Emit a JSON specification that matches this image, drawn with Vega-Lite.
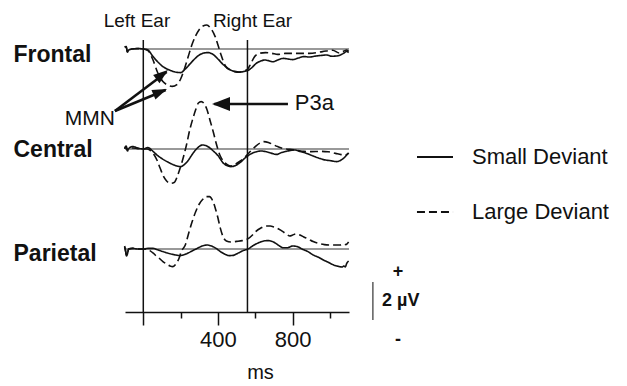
{
  "$schema": "https://vega.github.io/schema/vega-lite/v6.json",
  "padding": {"left": 13, "top": 0, "right": 0, "bottom": 0},
  "background": "white",
  "config": {"view": {"stroke": null}, "font": "Liberation Sans"},
  "spacing": 0,
  "bounds": "flush",
  "resolve": {"scale": {"y": "independent", "strokeDash": "independent"}, "legend": {"strokeDash": "independent"}},
  "datasets": {
    "waves": [
      {"ch":"Frontal","dev":"Small Deviant","ms":-100,"uv":0.10},{"ch":"Frontal","dev":"Small Deviant","ms":-92,"uv":0.12},{"ch":"Frontal","dev":"Small Deviant","ms":-85,"uv":-0.15},{"ch":"Frontal","dev":"Small Deviant","ms":-78,"uv":-0.05},{"ch":"Frontal","dev":"Small Deviant","ms":-60,"uv":0.0},{"ch":"Frontal","dev":"Small Deviant","ms":-30,"uv":0.02},{"ch":"Frontal","dev":"Small Deviant","ms":0,"uv":0.0},{"ch":"Frontal","dev":"Small Deviant","ms":25,"uv":-0.05},{"ch":"Frontal","dev":"Small Deviant","ms":50,"uv":-0.35},{"ch":"Frontal","dev":"Small Deviant","ms":75,"uv":-0.62},{"ch":"Frontal","dev":"Small Deviant","ms":105,"uv":-0.88},{"ch":"Frontal","dev":"Small Deviant","ms":140,"uv":-1.05},{"ch":"Frontal","dev":"Small Deviant","ms":170,"uv":-1.15},{"ch":"Frontal","dev":"Small Deviant","ms":200,"uv":-1.18},{"ch":"Frontal","dev":"Small Deviant","ms":225,"uv":-1.0},{"ch":"Frontal","dev":"Small Deviant","ms":250,"uv":-0.75},{"ch":"Frontal","dev":"Small Deviant","ms":275,"uv":-0.5},{"ch":"Frontal","dev":"Small Deviant","ms":300,"uv":-0.3},{"ch":"Frontal","dev":"Small Deviant","ms":325,"uv":-0.2},{"ch":"Frontal","dev":"Small Deviant","ms":345,"uv":-0.18},{"ch":"Frontal","dev":"Small Deviant","ms":370,"uv":-0.25},{"ch":"Frontal","dev":"Small Deviant","ms":400,"uv":-0.5},{"ch":"Frontal","dev":"Small Deviant","ms":425,"uv":-0.75},{"ch":"Frontal","dev":"Small Deviant","ms":450,"uv":-0.95},{"ch":"Frontal","dev":"Small Deviant","ms":480,"uv":-1.1},{"ch":"Frontal","dev":"Small Deviant","ms":510,"uv":-1.16},{"ch":"Frontal","dev":"Small Deviant","ms":540,"uv":-1.12},{"ch":"Frontal","dev":"Small Deviant","ms":565,"uv":-1.05},{"ch":"Frontal","dev":"Small Deviant","ms":585,"uv":-0.9},{"ch":"Frontal","dev":"Small Deviant","ms":605,"uv":-0.72},{"ch":"Frontal","dev":"Small Deviant","ms":630,"uv":-0.6},{"ch":"Frontal","dev":"Small Deviant","ms":650,"uv":-0.55},{"ch":"Frontal","dev":"Small Deviant","ms":670,"uv":-0.58},{"ch":"Frontal","dev":"Small Deviant","ms":695,"uv":-0.64},{"ch":"Frontal","dev":"Small Deviant","ms":720,"uv":-0.55},{"ch":"Frontal","dev":"Small Deviant","ms":750,"uv":-0.47},{"ch":"Frontal","dev":"Small Deviant","ms":775,"uv":-0.5},{"ch":"Frontal","dev":"Small Deviant","ms":800,"uv":-0.53},{"ch":"Frontal","dev":"Small Deviant","ms":830,"uv":-0.45},{"ch":"Frontal","dev":"Small Deviant","ms":860,"uv":-0.38},{"ch":"Frontal","dev":"Small Deviant","ms":890,"uv":-0.4},{"ch":"Frontal","dev":"Small Deviant","ms":925,"uv":-0.35},{"ch":"Frontal","dev":"Small Deviant","ms":955,"uv":-0.32},{"ch":"Frontal","dev":"Small Deviant","ms":980,"uv":-0.3},{"ch":"Frontal","dev":"Small Deviant","ms":1010,"uv":-0.36},{"ch":"Frontal","dev":"Small Deviant","ms":1035,"uv":-0.35},{"ch":"Frontal","dev":"Small Deviant","ms":1060,"uv":-0.28},{"ch":"Frontal","dev":"Small Deviant","ms":1075,"uv":-0.2},{"ch":"Frontal","dev":"Small Deviant","ms":1090,"uv":-0.12},{"ch":"Frontal","dev":"Small Deviant","ms":1100,"uv":-0.18},
      {"ch":"Frontal","dev":"Large Deviant","ms":-100,"uv":0.10},{"ch":"Frontal","dev":"Large Deviant","ms":-92,"uv":0.12},{"ch":"Frontal","dev":"Large Deviant","ms":-85,"uv":-0.15},{"ch":"Frontal","dev":"Large Deviant","ms":-78,"uv":-0.05},{"ch":"Frontal","dev":"Large Deviant","ms":-60,"uv":0.0},{"ch":"Frontal","dev":"Large Deviant","ms":-30,"uv":0.02},{"ch":"Frontal","dev":"Large Deviant","ms":0,"uv":0.0},{"ch":"Frontal","dev":"Large Deviant","ms":25,"uv":-0.08},{"ch":"Frontal","dev":"Large Deviant","ms":50,"uv":-0.5},{"ch":"Frontal","dev":"Large Deviant","ms":78,"uv":-1.2},{"ch":"Frontal","dev":"Large Deviant","ms":105,"uv":-1.63},{"ch":"Frontal","dev":"Large Deviant","ms":130,"uv":-1.8},{"ch":"Frontal","dev":"Large Deviant","ms":155,"uv":-1.87},{"ch":"Frontal","dev":"Large Deviant","ms":180,"uv":-1.78},{"ch":"Frontal","dev":"Large Deviant","ms":200,"uv":-1.5},{"ch":"Frontal","dev":"Large Deviant","ms":220,"uv":-1.0},{"ch":"Frontal","dev":"Large Deviant","ms":240,"uv":-0.4},{"ch":"Frontal","dev":"Large Deviant","ms":260,"uv":0.2},{"ch":"Frontal","dev":"Large Deviant","ms":280,"uv":0.65},{"ch":"Frontal","dev":"Large Deviant","ms":300,"uv":0.98},{"ch":"Frontal","dev":"Large Deviant","ms":320,"uv":1.15},{"ch":"Frontal","dev":"Large Deviant","ms":340,"uv":1.2},{"ch":"Frontal","dev":"Large Deviant","ms":360,"uv":1.05},{"ch":"Frontal","dev":"Large Deviant","ms":385,"uv":0.62},{"ch":"Frontal","dev":"Large Deviant","ms":400,"uv":0.2},{"ch":"Frontal","dev":"Large Deviant","ms":415,"uv":-0.25},{"ch":"Frontal","dev":"Large Deviant","ms":440,"uv":-0.85},{"ch":"Frontal","dev":"Large Deviant","ms":465,"uv":-1.05},{"ch":"Frontal","dev":"Large Deviant","ms":490,"uv":-1.12},{"ch":"Frontal","dev":"Large Deviant","ms":515,"uv":-1.15},{"ch":"Frontal","dev":"Large Deviant","ms":540,"uv":-1.1},{"ch":"Frontal","dev":"Large Deviant","ms":560,"uv":-1.0},{"ch":"Frontal","dev":"Large Deviant","ms":575,"uv":-0.75},{"ch":"Frontal","dev":"Large Deviant","ms":595,"uv":-0.4},{"ch":"Frontal","dev":"Large Deviant","ms":620,"uv":-0.22},{"ch":"Frontal","dev":"Large Deviant","ms":655,"uv":-0.18},{"ch":"Frontal","dev":"Large Deviant","ms":690,"uv":-0.22},{"ch":"Frontal","dev":"Large Deviant","ms":720,"uv":-0.27},{"ch":"Frontal","dev":"Large Deviant","ms":760,"uv":-0.22},{"ch":"Frontal","dev":"Large Deviant","ms":820,"uv":-0.22},{"ch":"Frontal","dev":"Large Deviant","ms":890,"uv":-0.22},{"ch":"Frontal","dev":"Large Deviant","ms":960,"uv":-0.13},{"ch":"Frontal","dev":"Large Deviant","ms":1015,"uv":-0.06},{"ch":"Frontal","dev":"Large Deviant","ms":1050,"uv":-0.2},{"ch":"Frontal","dev":"Large Deviant","ms":1075,"uv":-0.1},{"ch":"Frontal","dev":"Large Deviant","ms":1090,"uv":-0.05},{"ch":"Frontal","dev":"Large Deviant","ms":1100,"uv":-0.12},
      {"ch":"Central","dev":"Small Deviant","ms":-100,"uv":0.03},{"ch":"Central","dev":"Small Deviant","ms":-92,"uv":0.15},{"ch":"Central","dev":"Small Deviant","ms":-85,"uv":-0.05},{"ch":"Central","dev":"Small Deviant","ms":-75,"uv":0.05},{"ch":"Central","dev":"Small Deviant","ms":-57,"uv":0.12},{"ch":"Central","dev":"Small Deviant","ms":-30,"uv":0.05},{"ch":"Central","dev":"Small Deviant","ms":0,"uv":0.0},{"ch":"Central","dev":"Small Deviant","ms":24,"uv":0.07},{"ch":"Central","dev":"Small Deviant","ms":50,"uv":-0.1},{"ch":"Central","dev":"Small Deviant","ms":73,"uv":-0.3},{"ch":"Central","dev":"Small Deviant","ms":100,"uv":-0.48},{"ch":"Central","dev":"Small Deviant","ms":127,"uv":-0.63},{"ch":"Central","dev":"Small Deviant","ms":155,"uv":-0.76},{"ch":"Central","dev":"Small Deviant","ms":181,"uv":-0.85},{"ch":"Central","dev":"Small Deviant","ms":200,"uv":-0.88},{"ch":"Central","dev":"Small Deviant","ms":220,"uv":-0.78},{"ch":"Central","dev":"Small Deviant","ms":240,"uv":-0.58},{"ch":"Central","dev":"Small Deviant","ms":260,"uv":-0.3},{"ch":"Central","dev":"Small Deviant","ms":280,"uv":-0.05},{"ch":"Central","dev":"Small Deviant","ms":300,"uv":0.13},{"ch":"Central","dev":"Small Deviant","ms":316,"uv":0.2},{"ch":"Central","dev":"Small Deviant","ms":335,"uv":0.17},{"ch":"Central","dev":"Small Deviant","ms":350,"uv":0.1},{"ch":"Central","dev":"Small Deviant","ms":375,"uv":-0.1},{"ch":"Central","dev":"Small Deviant","ms":400,"uv":-0.33},{"ch":"Central","dev":"Small Deviant","ms":430,"uv":-0.72},{"ch":"Central","dev":"Small Deviant","ms":455,"uv":-0.85},{"ch":"Central","dev":"Small Deviant","ms":470,"uv":-0.88},{"ch":"Central","dev":"Small Deviant","ms":495,"uv":-0.82},{"ch":"Central","dev":"Small Deviant","ms":520,"uv":-0.67},{"ch":"Central","dev":"Small Deviant","ms":545,"uv":-0.45},{"ch":"Central","dev":"Small Deviant","ms":570,"uv":-0.28},{"ch":"Central","dev":"Small Deviant","ms":600,"uv":-0.15},{"ch":"Central","dev":"Small Deviant","ms":630,"uv":-0.1},{"ch":"Central","dev":"Small Deviant","ms":660,"uv":-0.14},{"ch":"Central","dev":"Small Deviant","ms":690,"uv":-0.22},{"ch":"Central","dev":"Small Deviant","ms":715,"uv":-0.27},{"ch":"Central","dev":"Small Deviant","ms":740,"uv":-0.18},{"ch":"Central","dev":"Small Deviant","ms":765,"uv":-0.12},{"ch":"Central","dev":"Small Deviant","ms":790,"uv":-0.07},{"ch":"Central","dev":"Small Deviant","ms":810,"uv":-0.05},{"ch":"Central","dev":"Small Deviant","ms":840,"uv":-0.12},{"ch":"Central","dev":"Small Deviant","ms":875,"uv":-0.22},{"ch":"Central","dev":"Small Deviant","ms":910,"uv":-0.35},{"ch":"Central","dev":"Small Deviant","ms":945,"uv":-0.47},{"ch":"Central","dev":"Small Deviant","ms":975,"uv":-0.55},{"ch":"Central","dev":"Small Deviant","ms":1000,"uv":-0.58},{"ch":"Central","dev":"Small Deviant","ms":1035,"uv":-0.63},{"ch":"Central","dev":"Small Deviant","ms":1060,"uv":-0.55},{"ch":"Central","dev":"Small Deviant","ms":1075,"uv":-0.45},{"ch":"Central","dev":"Small Deviant","ms":1090,"uv":-0.3},{"ch":"Central","dev":"Small Deviant","ms":1100,"uv":-0.2},
      {"ch":"Central","dev":"Large Deviant","ms":-100,"uv":0.0},{"ch":"Central","dev":"Large Deviant","ms":-92,"uv":0.1},{"ch":"Central","dev":"Large Deviant","ms":-85,"uv":-0.1},{"ch":"Central","dev":"Large Deviant","ms":-75,"uv":0.0},{"ch":"Central","dev":"Large Deviant","ms":-57,"uv":0.05},{"ch":"Central","dev":"Large Deviant","ms":-30,"uv":0.02},{"ch":"Central","dev":"Large Deviant","ms":0,"uv":0.0},{"ch":"Central","dev":"Large Deviant","ms":20,"uv":0.0},{"ch":"Central","dev":"Large Deviant","ms":35,"uv":-0.05},{"ch":"Central","dev":"Large Deviant","ms":55,"uv":-0.25},{"ch":"Central","dev":"Large Deviant","ms":73,"uv":-0.55},{"ch":"Central","dev":"Large Deviant","ms":90,"uv":-0.95},{"ch":"Central","dev":"Large Deviant","ms":105,"uv":-1.3},{"ch":"Central","dev":"Large Deviant","ms":125,"uv":-1.6},{"ch":"Central","dev":"Large Deviant","ms":145,"uv":-1.72},{"ch":"Central","dev":"Large Deviant","ms":165,"uv":-1.68},{"ch":"Central","dev":"Large Deviant","ms":185,"uv":-1.3},{"ch":"Central","dev":"Large Deviant","ms":200,"uv":-0.88},{"ch":"Central","dev":"Large Deviant","ms":215,"uv":-0.4},{"ch":"Central","dev":"Large Deviant","ms":230,"uv":0.15},{"ch":"Central","dev":"Large Deviant","ms":250,"uv":1.0},{"ch":"Central","dev":"Large Deviant","ms":265,"uv":1.5},{"ch":"Central","dev":"Large Deviant","ms":280,"uv":1.95},{"ch":"Central","dev":"Large Deviant","ms":295,"uv":2.3},{"ch":"Central","dev":"Large Deviant","ms":310,"uv":2.37},{"ch":"Central","dev":"Large Deviant","ms":325,"uv":2.28},{"ch":"Central","dev":"Large Deviant","ms":340,"uv":2.0},{"ch":"Central","dev":"Large Deviant","ms":360,"uv":1.35},{"ch":"Central","dev":"Large Deviant","ms":375,"uv":0.85},{"ch":"Central","dev":"Large Deviant","ms":390,"uv":0.3},{"ch":"Central","dev":"Large Deviant","ms":410,"uv":-0.3},{"ch":"Central","dev":"Large Deviant","ms":430,"uv":-0.62},{"ch":"Central","dev":"Large Deviant","ms":450,"uv":-0.78},{"ch":"Central","dev":"Large Deviant","ms":470,"uv":-0.85},{"ch":"Central","dev":"Large Deviant","ms":495,"uv":-0.75},{"ch":"Central","dev":"Large Deviant","ms":520,"uv":-0.6},{"ch":"Central","dev":"Large Deviant","ms":545,"uv":-0.4},{"ch":"Central","dev":"Large Deviant","ms":570,"uv":-0.15},{"ch":"Central","dev":"Large Deviant","ms":600,"uv":0.12},{"ch":"Central","dev":"Large Deviant","ms":625,"uv":0.3},{"ch":"Central","dev":"Large Deviant","ms":645,"uv":0.37},{"ch":"Central","dev":"Large Deviant","ms":670,"uv":0.33},{"ch":"Central","dev":"Large Deviant","ms":695,"uv":0.22},{"ch":"Central","dev":"Large Deviant","ms":720,"uv":0.12},{"ch":"Central","dev":"Large Deviant","ms":750,"uv":0.02},{"ch":"Central","dev":"Large Deviant","ms":785,"uv":-0.02},{"ch":"Central","dev":"Large Deviant","ms":820,"uv":-0.06},{"ch":"Central","dev":"Large Deviant","ms":860,"uv":-0.12},{"ch":"Central","dev":"Large Deviant","ms":900,"uv":-0.13},{"ch":"Central","dev":"Large Deviant","ms":950,"uv":-0.12},{"ch":"Central","dev":"Large Deviant","ms":990,"uv":-0.14},{"ch":"Central","dev":"Large Deviant","ms":1030,"uv":-0.22},{"ch":"Central","dev":"Large Deviant","ms":1060,"uv":-0.28},{"ch":"Central","dev":"Large Deviant","ms":1080,"uv":-0.3},{"ch":"Central","dev":"Large Deviant","ms":1100,"uv":-0.2},
      {"ch":"Parietal","dev":"Small Deviant","ms":-100,"uv":0.15},{"ch":"Parietal","dev":"Small Deviant","ms":-95,"uv":-0.1},{"ch":"Parietal","dev":"Small Deviant","ms":-90,"uv":-0.35},{"ch":"Parietal","dev":"Small Deviant","ms":-85,"uv":-0.25},{"ch":"Parietal","dev":"Small Deviant","ms":-78,"uv":0.0},{"ch":"Parietal","dev":"Small Deviant","ms":-57,"uv":0.03},{"ch":"Parietal","dev":"Small Deviant","ms":-30,"uv":0.0},{"ch":"Parietal","dev":"Small Deviant","ms":0,"uv":0.0},{"ch":"Parietal","dev":"Small Deviant","ms":25,"uv":0.03},{"ch":"Parietal","dev":"Small Deviant","ms":51,"uv":0.03},{"ch":"Parietal","dev":"Small Deviant","ms":80,"uv":-0.05},{"ch":"Parietal","dev":"Small Deviant","ms":105,"uv":-0.13},{"ch":"Parietal","dev":"Small Deviant","ms":130,"uv":-0.2},{"ch":"Parietal","dev":"Small Deviant","ms":159,"uv":-0.27},{"ch":"Parietal","dev":"Small Deviant","ms":180,"uv":-0.31},{"ch":"Parietal","dev":"Small Deviant","ms":197,"uv":-0.33},{"ch":"Parietal","dev":"Small Deviant","ms":220,"uv":-0.28},{"ch":"Parietal","dev":"Small Deviant","ms":240,"uv":-0.2},{"ch":"Parietal","dev":"Small Deviant","ms":265,"uv":-0.08},{"ch":"Parietal","dev":"Small Deviant","ms":289,"uv":0.03},{"ch":"Parietal","dev":"Small Deviant","ms":315,"uv":0.15},{"ch":"Parietal","dev":"Small Deviant","ms":343,"uv":0.2},{"ch":"Parietal","dev":"Small Deviant","ms":365,"uv":0.15},{"ch":"Parietal","dev":"Small Deviant","ms":390,"uv":0.03},{"ch":"Parietal","dev":"Small Deviant","ms":413,"uv":-0.13},{"ch":"Parietal","dev":"Small Deviant","ms":440,"uv":-0.27},{"ch":"Parietal","dev":"Small Deviant","ms":460,"uv":-0.33},{"ch":"Parietal","dev":"Small Deviant","ms":480,"uv":-0.32},{"ch":"Parietal","dev":"Small Deviant","ms":505,"uv":-0.22},{"ch":"Parietal","dev":"Small Deviant","ms":535,"uv":-0.08},{"ch":"Parietal","dev":"Small Deviant","ms":565,"uv":0.02},{"ch":"Parietal","dev":"Small Deviant","ms":590,"uv":0.18},{"ch":"Parietal","dev":"Small Deviant","ms":620,"uv":0.32},{"ch":"Parietal","dev":"Small Deviant","ms":645,"uv":0.4},{"ch":"Parietal","dev":"Small Deviant","ms":668,"uv":0.42},{"ch":"Parietal","dev":"Small Deviant","ms":690,"uv":0.38},{"ch":"Parietal","dev":"Small Deviant","ms":710,"uv":0.28},{"ch":"Parietal","dev":"Small Deviant","ms":730,"uv":0.15},{"ch":"Parietal","dev":"Small Deviant","ms":750,"uv":0.06},{"ch":"Parietal","dev":"Small Deviant","ms":770,"uv":0.06},{"ch":"Parietal","dev":"Small Deviant","ms":800,"uv":0.15},{"ch":"Parietal","dev":"Small Deviant","ms":825,"uv":0.12},{"ch":"Parietal","dev":"Small Deviant","ms":850,"uv":0.0},{"ch":"Parietal","dev":"Small Deviant","ms":880,"uv":-0.12},{"ch":"Parietal","dev":"Small Deviant","ms":910,"uv":-0.3},{"ch":"Parietal","dev":"Small Deviant","ms":940,"uv":-0.42},{"ch":"Parietal","dev":"Small Deviant","ms":965,"uv":-0.55},{"ch":"Parietal","dev":"Small Deviant","ms":990,"uv":-0.66},{"ch":"Parietal","dev":"Small Deviant","ms":1020,"uv":-0.8},{"ch":"Parietal","dev":"Small Deviant","ms":1045,"uv":-0.87},{"ch":"Parietal","dev":"Small Deviant","ms":1065,"uv":-0.9},{"ch":"Parietal","dev":"Small Deviant","ms":1075,"uv":-0.85},{"ch":"Parietal","dev":"Small Deviant","ms":1082,"uv":-0.9},{"ch":"Parietal","dev":"Small Deviant","ms":1090,"uv":-0.72},{"ch":"Parietal","dev":"Small Deviant","ms":1100,"uv":-0.6},
      {"ch":"Parietal","dev":"Large Deviant","ms":-100,"uv":0.1},{"ch":"Parietal","dev":"Large Deviant","ms":-95,"uv":-0.1},{"ch":"Parietal","dev":"Large Deviant","ms":-90,"uv":-0.3},{"ch":"Parietal","dev":"Large Deviant","ms":-85,"uv":-0.2},{"ch":"Parietal","dev":"Large Deviant","ms":-78,"uv":0.0},{"ch":"Parietal","dev":"Large Deviant","ms":-57,"uv":0.03},{"ch":"Parietal","dev":"Large Deviant","ms":-30,"uv":0.0},{"ch":"Parietal","dev":"Large Deviant","ms":0,"uv":0.0},{"ch":"Parietal","dev":"Large Deviant","ms":20,"uv":-0.02},{"ch":"Parietal","dev":"Large Deviant","ms":35,"uv":-0.08},{"ch":"Parietal","dev":"Large Deviant","ms":55,"uv":-0.22},{"ch":"Parietal","dev":"Large Deviant","ms":73,"uv":-0.38},{"ch":"Parietal","dev":"Large Deviant","ms":90,"uv":-0.5},{"ch":"Parietal","dev":"Large Deviant","ms":105,"uv":-0.63},{"ch":"Parietal","dev":"Large Deviant","ms":125,"uv":-0.75},{"ch":"Parietal","dev":"Large Deviant","ms":143,"uv":-0.85},{"ch":"Parietal","dev":"Large Deviant","ms":159,"uv":-0.88},{"ch":"Parietal","dev":"Large Deviant","ms":175,"uv":-0.75},{"ch":"Parietal","dev":"Large Deviant","ms":190,"uv":-0.5},{"ch":"Parietal","dev":"Large Deviant","ms":205,"uv":-0.1},{"ch":"Parietal","dev":"Large Deviant","ms":225,"uv":0.2},{"ch":"Parietal","dev":"Large Deviant","ms":245,"uv":0.85},{"ch":"Parietal","dev":"Large Deviant","ms":262,"uv":1.37},{"ch":"Parietal","dev":"Large Deviant","ms":280,"uv":1.85},{"ch":"Parietal","dev":"Large Deviant","ms":300,"uv":2.25},{"ch":"Parietal","dev":"Large Deviant","ms":320,"uv":2.5},{"ch":"Parietal","dev":"Large Deviant","ms":335,"uv":2.62},{"ch":"Parietal","dev":"Large Deviant","ms":355,"uv":2.62},{"ch":"Parietal","dev":"Large Deviant","ms":370,"uv":2.45},{"ch":"Parietal","dev":"Large Deviant","ms":386,"uv":2.03},{"ch":"Parietal","dev":"Large Deviant","ms":400,"uv":1.55},{"ch":"Parietal","dev":"Large Deviant","ms":413,"uv":1.03},{"ch":"Parietal","dev":"Large Deviant","ms":428,"uv":0.6},{"ch":"Parietal","dev":"Large Deviant","ms":445,"uv":0.4},{"ch":"Parietal","dev":"Large Deviant","ms":470,"uv":0.35},{"ch":"Parietal","dev":"Large Deviant","ms":500,"uv":0.38},{"ch":"Parietal","dev":"Large Deviant","ms":530,"uv":0.42},{"ch":"Parietal","dev":"Large Deviant","ms":564,"uv":0.53},{"ch":"Parietal","dev":"Large Deviant","ms":585,"uv":0.7},{"ch":"Parietal","dev":"Large Deviant","ms":602,"uv":0.87},{"ch":"Parietal","dev":"Large Deviant","ms":630,"uv":1.05},{"ch":"Parietal","dev":"Large Deviant","ms":656,"uv":1.15},{"ch":"Parietal","dev":"Large Deviant","ms":680,"uv":1.15},{"ch":"Parietal","dev":"Large Deviant","ms":700,"uv":1.1},{"ch":"Parietal","dev":"Large Deviant","ms":725,"uv":1.0},{"ch":"Parietal","dev":"Large Deviant","ms":748,"uv":0.87},{"ch":"Parietal","dev":"Large Deviant","ms":770,"uv":0.72},{"ch":"Parietal","dev":"Large Deviant","ms":785,"uv":0.65},{"ch":"Parietal","dev":"Large Deviant","ms":800,"uv":0.7},{"ch":"Parietal","dev":"Large Deviant","ms":818,"uv":0.75},{"ch":"Parietal","dev":"Large Deviant","ms":840,"uv":0.7},{"ch":"Parietal","dev":"Large Deviant","ms":860,"uv":0.6},{"ch":"Parietal","dev":"Large Deviant","ms":885,"uv":0.5},{"ch":"Parietal","dev":"Large Deviant","ms":910,"uv":0.37},{"ch":"Parietal","dev":"Large Deviant","ms":940,"uv":0.28},{"ch":"Parietal","dev":"Large Deviant","ms":970,"uv":0.22},{"ch":"Parietal","dev":"Large Deviant","ms":1000,"uv":0.2},{"ch":"Parietal","dev":"Large Deviant","ms":1030,"uv":0.2},{"ch":"Parietal","dev":"Large Deviant","ms":1055,"uv":0.2},{"ch":"Parietal","dev":"Large Deviant","ms":1075,"uv":0.25},{"ch":"Parietal","dev":"Large Deviant","ms":1085,"uv":0.22},{"ch":"Parietal","dev":"Large Deviant","ms":1100,"uv":0.35}
    ]
  },
  "vconcat": [
    {
      "width": 224, "height": 140,
      "resolve": {"axis": {"x": "independent", "y": "independent"}},
      "layer": [
        {"data": {"values": [{}]}, "mark": {"type": "rule", "color": "#777", "strokeWidth": 1.4},
         "encoding": {"x": {"datum": -18, "type": "quantitative", "axis": null}, "x2": {"datum": 1102}, "y": {"datum": 0, "type": "quantitative", "axis": null}}},
        {"data": {"values": [{"ms": 0}, {"ms": 558}]}, "mark": {"type": "rule", "color": "#111", "strokeWidth": 1.5},
         "encoding": {"x": {"field": "ms", "type": "quantitative", "axis": null}, "y": {"datum": 0.45, "type": "quantitative", "axis": null}, "y2": {"datum": -4.55}}},
        {"data": {"name": "waves"}, "transform": [{"filter": "datum.ch == 'Frontal'"}],
         "mark": {"type": "line", "color": "#111", "strokeWidth": 1.6, "interpolate": "monotone"},
         "encoding": {
           "x": {"field": "ms", "type": "quantitative", "scale": {"domain": [-98, 1102], "nice": false, "zero": false}, "axis": null},
           "y": {"field": "uv", "type": "quantitative", "scale": {"domain": [-4.55, 2.45], "nice": false, "zero": false},
                 "axis": {"title": "Frontal", "domain": false, "ticks": false, "labels": false, "grid": false, "titleAngle": 0, "titleAlign": "left", "titleBaseline": "alphabetic", "titleX": -112, "titleY": 61.5, "titleFontSize": 23, "titleFontWeight": "bold", "titleFont": "Liberation Sans", "titleColor": "#111"}},
           "strokeDash": {"field": "dev", "type": "nominal", "scale": {"domain": ["Small Deviant", "Large Deviant"], "range": [[1, 0], [8, 4]]}, "legend": null},
           "detail": {"field": "dev"}
         }},
        {"data": {"values": [{"ms": -34, "uv": 1.1, "label": "Left Ear"}, {"ms": 585, "uv": 1.1, "label": "Right Ear"}]},
         "mark": {"type": "text", "align": "center", "baseline": "alphabetic", "fontSize": 19, "font": "Liberation Sans", "color": "#111"},
         "encoding": {"x": {"field": "ms", "type": "quantitative", "axis": null}, "y": {"field": "uv", "type": "quantitative", "axis": null}, "text": {"field": "label"}}},
        {"data": {"values": [{"ms": -152, "uv": -3.8, "label": "MMN"}]},
         "mark": {"type": "text", "align": "right", "baseline": "alphabetic", "fontSize": 21, "font": "Liberation Sans", "color": "#111"},
         "encoding": {"x": {"field": "ms", "type": "quantitative", "axis": null}, "y": {"field": "uv", "type": "quantitative", "axis": null}, "text": {"field": "label"}}},
        {"data": {"values": [{"ms": 812, "uv": -3.05, "label": "P3a"}]},
         "mark": {"type": "text", "align": "left", "baseline": "alphabetic", "fontSize": 22, "font": "Liberation Sans", "color": "#111"},
         "encoding": {"x": {"field": "ms", "type": "quantitative", "axis": null}, "y": {"field": "uv", "type": "quantitative", "axis": null}, "text": {"field": "label"}}},
        {"data": {"values": [{"ms": -152, "uv": -3.1, "ms2": 125, "uv2": -1.15}, {"ms": -152, "uv": -3.1, "ms2": 120, "uv2": -2.05}, {"ms": 775, "uv": -2.75, "ms2": 380, "uv2": -2.75}]},
         "mark": {"type": "rule", "color": "#111", "strokeWidth": 2.6},
         "encoding": {"x": {"field": "ms", "type": "quantitative", "axis": null}, "y": {"field": "uv", "type": "quantitative", "axis": null}, "x2": {"field": "ms2"}, "y2": {"field": "uv2"}}},
        {"data": {"values": [{"ms": 132, "uv": -1.05}]},
         "mark": {"type": "point", "shape": "M0,0L0.6,1.7L-0.6,1.7Z", "size": 300, "angle": 52, "filled": true, "color": "#111", "opacity": 1, "strokeWidth": 0},
         "encoding": {"x": {"field": "ms", "type": "quantitative", "axis": null}, "y": {"field": "uv", "type": "quantitative", "axis": null}}},
        {"data": {"values": [{"ms": 127, "uv": -2.0}]},
         "mark": {"type": "point", "shape": "M0,0L0.6,1.7L-0.6,1.7Z", "size": 300, "angle": 67, "filled": true, "color": "#111", "opacity": 1, "strokeWidth": 0},
         "encoding": {"x": {"field": "ms", "type": "quantitative", "axis": null}, "y": {"field": "uv", "type": "quantitative", "axis": null}}},
        {"data": {"values": [{"ms": 368, "uv": -2.75}]},
         "mark": {"type": "point", "shape": "M0,0L0.7,1.8L-0.7,1.8Z", "size": 400, "angle": 270, "filled": true, "color": "#111", "opacity": 1, "strokeWidth": 0},
         "encoding": {"x": {"field": "ms", "type": "quantitative", "axis": null}, "y": {"field": "uv", "type": "quantitative", "axis": null}}}
      ]
    },
    {
      "width": 224, "height": 100,
      "resolve": {"axis": {"x": "independent", "y": "independent"}},
      "layer": [
        {"data": {"values": [{}]}, "mark": {"type": "rule", "color": "#777", "strokeWidth": 1.4},
         "encoding": {"x": {"datum": -98, "type": "quantitative", "axis": null}, "x2": {"datum": 1102}, "y": {"datum": 0, "type": "quantitative", "axis": null}}},
        {"data": {"values": [{"ms": 0}, {"ms": 558}]}, "mark": {"type": "rule", "color": "#111", "strokeWidth": 1.5},
         "encoding": {"x": {"field": "ms", "type": "quantitative", "axis": null}}},
        {"data": {"name": "waves"}, "transform": [{"filter": "datum.ch == 'Central'"}],
         "mark": {"type": "line", "color": "#111", "strokeWidth": 1.6, "interpolate": "monotone"},
         "encoding": {
           "x": {"field": "ms", "type": "quantitative", "scale": {"domain": [-98, 1102], "nice": false, "zero": false}, "axis": null},
           "y": {"field": "uv", "type": "quantitative", "scale": {"domain": [-4.55, 0.45], "nice": false, "zero": false},
                 "axis": {"title": "Central", "domain": false, "ticks": false, "labels": false, "grid": false, "titleAngle": 0, "titleAlign": "left", "titleBaseline": "alphabetic", "titleX": -112, "titleY": 16.7, "titleFontSize": 23, "titleFontWeight": "bold", "titleFont": "Liberation Sans", "titleColor": "#111"}},
           "strokeDash": {"field": "dev", "type": "nominal", "scale": {"domain": ["Small Deviant", "Large Deviant"], "range": [[1, 0], [8, 4]]},
                          "legend": {"orient": "none", "legendX": 291, "legendY": -2, "title": null, "symbolType": "stroke", "symbolSize": 1300, "symbolStrokeWidth": 1.8, "symbolStrokeColor": "#111", "labelFontSize": 22, "labelFont": "Liberation Sans", "labelColor": "#111", "labelOffset": 18, "rowPadding": 25, "padding": 0}},
           "detail": {"field": "dev"}
         }}
      ]
    },
    {
      "width": 224, "height": 72,
      "resolve": {"axis": {"x": "independent", "y": "independent"}},
      "layer": [
        {"data": {"values": [{}]}, "mark": {"type": "rule", "color": "#777", "strokeWidth": 1.4},
         "encoding": {"x": {"datum": -98, "type": "quantitative", "axis": null}, "x2": {"datum": 1102}, "y": {"datum": 0, "type": "quantitative", "axis": null}}},
        {"data": {"values": [{"ms": 0}, {"ms": 558}]}, "mark": {"type": "rule", "color": "#111", "strokeWidth": 1.5},
         "encoding": {"x": {"field": "ms", "type": "quantitative", "axis": null}}},
        {"data": {"name": "waves"}, "transform": [{"filter": "datum.ch == 'Parietal'"}],
         "mark": {"type": "line", "color": "#111", "strokeWidth": 1.6, "interpolate": "monotone"},
         "encoding": {
           "x": {"field": "ms", "type": "quantitative", "scale": {"domain": [-98, 1102], "nice": false, "zero": false},
                 "axis": {"values": [0, 200, 400, 600, 800, 1000], "labelExpr": "datum.value == 400 || datum.value == 800 ? datum.label : ''", "tickSize": {"condition": {"test": "datum.value % 400 == 0", "value": 13}, "value": 6}, "domainColor": "#111", "domainWidth": 1.5, "tickColor": "#111", "tickWidth": 1.5, "labelFontSize": 22, "labelFont": "Liberation Sans", "labelColor": "#111", "labelPadding": 4, "labelFlush": false, "labelOverlap": false, "grid": false, "title": "ms", "titleFontSize": 20, "titleFontWeight": "normal", "titleFont": "Liberation Sans", "titleColor": "#111", "titleX": 135, "titleY": 66, "titleAlign": "center", "titleBaseline": "alphabetic"}},
           "y": {"field": "uv", "type": "quantitative", "scale": {"domain": [-3.15, 0.45], "nice": false, "zero": false},
                 "axis": {"title": "Parietal", "domain": false, "ticks": false, "labels": false, "grid": false, "titleAngle": 0, "titleAlign": "left", "titleBaseline": "alphabetic", "titleX": -112, "titleY": 20, "titleFontSize": 23, "titleFontWeight": "bold", "titleFont": "Liberation Sans", "titleColor": "#111"}},
           "strokeDash": {"field": "dev", "type": "nominal", "scale": {"domain": ["Small Deviant", "Large Deviant"], "range": [[1, 0], [8, 4]]}, "legend": null},
           "detail": {"field": "dev"}
         }},
        {"data": {"values": [{"ms": 1230, "uv": -1.65, "uv2": -3.55}]},
         "mark": {"type": "rule", "color": "#333", "strokeWidth": 1.2},
         "encoding": {"x": {"field": "ms", "type": "quantitative", "axis": null}, "y": {"field": "uv", "type": "quantitative", "axis": null}, "y2": {"field": "uv2"}}},
        {"data": {"values": [{"ms": 1364, "uv": -1.15, "label": "+"}, {"ms": 1364, "uv": -4.55, "label": "-"}]},
         "mark": {"type": "text", "align": "center", "baseline": "middle", "fontSize": 18, "fontWeight": "bold", "font": "Liberation Sans", "color": "#111"},
         "encoding": {"x": {"field": "ms", "type": "quantitative", "axis": null}, "y": {"field": "uv", "type": "quantitative", "axis": null}, "text": {"field": "label"}}},
        {"data": {"values": [{"ms": 1279, "uv": -2.6, "label": "2 µV"}]},
         "mark": {"type": "text", "align": "left", "baseline": "middle", "fontSize": 18, "fontWeight": "bold", "font": "Liberation Sans", "color": "#111"},
         "encoding": {"x": {"field": "ms", "type": "quantitative", "axis": null}, "y": {"field": "uv", "type": "quantitative", "axis": null}, "text": {"field": "label"}}}
      ]
    }
  ]
}
